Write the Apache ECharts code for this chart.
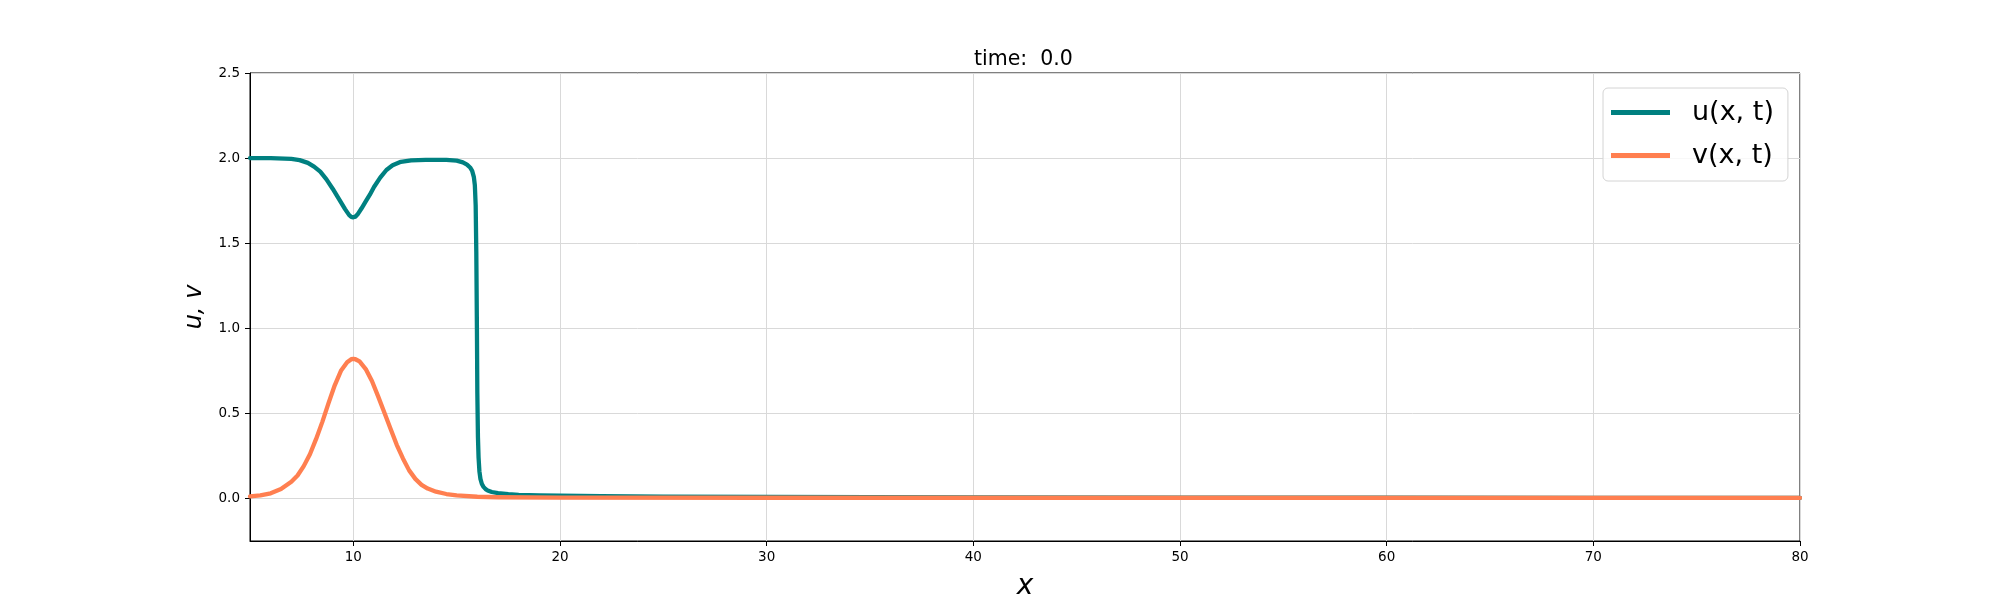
<!DOCTYPE html>
<html>
<head>
<meta charset="utf-8">
<script src="https://cdn.jsdelivr.net/npm/echarts@6/dist/echarts.min.js"></script>
<style>
html,body{margin:0;padding:0;background:#fff;}
#chart{width:2000px;height:608px;}
</style>
</head>
<body>
<div id="chart"></div>
<script>
// ---- data ----
const titleText = 'time:  0.0';
const uName = 'u(x, t)';
const vName = 'v(x, t)';
const xTicks = [10, 20, 30, 40, 50, 60, 70, 80];
const yTicks = [0.0, 0.5, 1.0, 1.5, 2.0, 2.5];

const uX = [5, 6, 7, 7.4, 7.8, 8.1, 8.4, 8.7, 9.0, 9.3, 9.6, 9.8, 9.9, 10.0, 10.1, 10.2, 10.4, 10.6, 10.8, 11.0, 11.3, 11.6, 11.9, 12.3, 12.8, 13.5, 14.5, 15.0, 15.3, 15.5, 15.65, 15.75, 15.83, 15.88, 15.92, 15.95, 15.98, 16.0, 16.03, 16.06, 16.1, 16.15, 16.22, 16.3, 16.4, 16.5, 16.7, 17, 17.5, 18, 19, 20, 22, 25, 30, 40, 50, 60, 70, 80];
const uY = [2.0, 2.0, 1.995, 1.988, 1.972, 1.95, 1.92, 1.875, 1.82, 1.76, 1.70, 1.665, 1.655, 1.652, 1.656, 1.668, 1.705, 1.745, 1.785, 1.83, 1.885, 1.93, 1.958, 1.978, 1.987, 1.99, 1.99, 1.985, 1.975, 1.962, 1.945, 1.925, 1.89, 1.84, 1.72, 1.45, 1.0, 0.62, 0.36, 0.24, 0.16, 0.115, 0.085, 0.068, 0.055, 0.047, 0.038, 0.031, 0.025, 0.021, 0.018, 0.016, 0.013, 0.011, 0.009, 0.006, 0.005, 0.004, 0.003, 0.003];

const vX = [5, 5.5, 6, 6.5, 7, 7.3, 7.6, 7.9, 8.2, 8.5, 8.8, 9.1, 9.4, 9.7, 9.9, 10.0, 10.1, 10.3, 10.6, 10.9, 11.2, 11.5, 11.8, 12.1, 12.4, 12.7, 13.0, 13.3, 13.6, 14.0, 14.5, 15, 16, 17, 20, 30, 80];
const vY = [0.012, 0.018, 0.03, 0.055, 0.098, 0.135, 0.19, 0.26, 0.35, 0.45, 0.56, 0.665, 0.75, 0.80, 0.818, 0.82, 0.818, 0.805, 0.76, 0.69, 0.60, 0.505, 0.41, 0.315, 0.235, 0.165, 0.115, 0.08, 0.058, 0.04, 0.026, 0.018, 0.01, 0.007, 0.005, 0.004, 0.003];

const FONT = 'DejaVu Sans';
const uData = uX.map((x, i) => [x, uY[i]]);
const vData = vX.map((x, i) => [x, vY[i]]);

const chart = echarts.init(document.getElementById('chart'), null, {renderer: 'canvas'});
chart.setOption({
  animation: false,
  backgroundColor: '#ffffff',
  title: {
    text: titleText,
    left: 974,
    top: 49,
    padding: 0,
    textStyle: {fontFamily: FONT, fontSize: 20.5, fontWeight: 'normal', color: '#000'}
  },
  legend: {
    orient: 'vertical',
    left: 1603,
    top: 88,
    padding: [11, 14, 12, 8],
    itemWidth: 59,
    itemHeight: 5,
    itemGap: 16,
    icon: 'rect',
    backgroundColor: 'rgba(255,255,255,0.8)',
    borderColor: '#d4d4d4',
    borderWidth: 1,
    borderRadius: 5,
    textStyle: {fontFamily: FONT, fontSize: 27, color: '#000', padding: [0, 0, 0, 17]},
    data: [{name: uName}, {name: vName}]
  },
  grid: {
    left: 250, right: 200, top: 73, bottom: 67,
    show: true, borderColor: '#000', borderWidth: 1, backgroundColor: 'transparent'
  },
  xAxis: {
    type: 'value',
    min: 5, max: 80,
    name: 'x',
    nameLocation: 'middle',
    nameGap: 32,
    nameTextStyle: {fontFamily: FONT, fontStyle: 'italic', fontSize: 28, color: '#000'},
    axisLine: {show: true, onZero: false, lineStyle: {color: '#000', width: 1}},
    axisTick: {show: true, inside: false, length: 5, customValues: xTicks, lineStyle: {color: '#000'}},
    axisLabel: {show: true, margin: 9, customValues: xTicks, fontFamily: FONT, fontSize: 13.5, color: '#000'},
    splitLine: {show: true, lineStyle: {color: '#d9d9d9', width: 1}}
  },
  yAxis: {
    type: 'value',
    min: -0.25, max: 2.5,
    name: 'u, v',
    nameLocation: 'middle',
    nameGap: 43,
    nameRotate: 90,
    nameTextStyle: {fontFamily: FONT, fontStyle: 'italic', fontSize: 24, color: '#000'},
    axisLine: {show: true, onZero: false, lineStyle: {color: '#000', width: 1}},
    axisTick: {show: true, inside: false, length: 5, customValues: yTicks, lineStyle: {color: '#000'}},
    axisLabel: {show: true, margin: 10, customValues: yTicks, fontFamily: FONT, fontSize: 13.5, color: '#000',
      formatter: v => Number(v).toFixed(1)},
    splitLine: {show: true, lineStyle: {color: '#d9d9d9', width: 1}}
  },
  series: [
    {
      name: uName, type: 'line', data: uData, symbol: 'none', showSymbol: false,
      lineStyle: {color: '#008080', width: 4.3, join: 'round', cap: 'round'}, itemStyle: {color: '#008080'}, z: 2
    },
    {
      name: vName, type: 'line', data: vData, symbol: 'none', showSymbol: false,
      lineStyle: {color: '#ff7f50', width: 4.3, join: 'round', cap: 'round'}, itemStyle: {color: '#ff7f50'}, z: 3
    }
  ]
});
</script>
</body>
</html>
